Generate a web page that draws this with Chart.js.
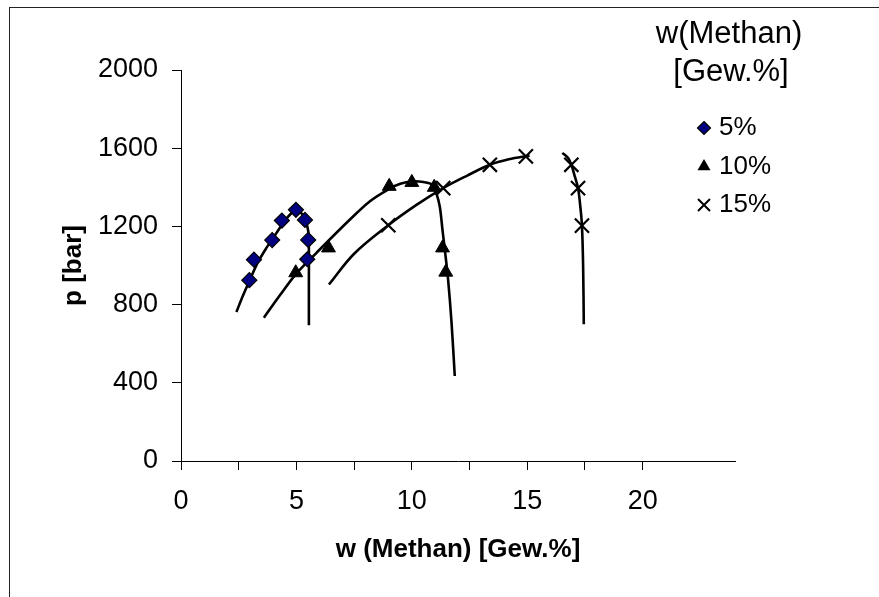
<!DOCTYPE html>
<html>
<head>
<meta charset="utf-8">
<script src="https://cdn.jsdelivr.net/npm/chart.js@4.4.1/dist/chart.umd.min.js"></script>
<style>
  html, body { margin: 0; padding: 0; background: #fff; }
  #wrap { position: relative; width: 879px; height: 597px; overflow: hidden; }
  #frame { position: absolute; left: 9px; top: 7px; width: 900px; height: 620px;
           border-left: 1px solid #222; border-top: 1px solid #222; }
  canvas { position: absolute; left: 0; top: 0; }
</style>
</head>
<body>
<div id="wrap">
  <div id="frame"></div>
  <canvas id="chart" width="879" height="597"></canvas>
</div>
<script>
// measured points, methane content of the feed: 5, 10, 15 wt.%
const w5 = [2.96, 3.16, 3.95, 4.37, 4.98, 5.37, 5.51, 5.47];
const p5 = [925, 1030, 1130, 1230, 1285, 1233, 1131, 1032];
const w10 = [4.97, 6.39, 9.02, 10.0, 10.97, 11.33, 11.47];
const p10 = [963, 1090, 1405, 1425, 1400, 1090, 966];
const w15 = [8.98, 11.36, 13.38, 14.94, 16.91, 17.2, 17.37];
const p15 = [1206, 1396, 1515, 1558, 1515, 1396, 1204];

// hand-drawn phase boundary curves
const curve5w = [2.4, 2.7, 3.0, 3.3, 3.7, 4.1, 4.5, 4.8, 5.0, 5.25, 5.42, 5.52, 5.54, 5.54, 5.54];
const curve5p = [762, 850, 930, 1010, 1090, 1160, 1230, 1270, 1288, 1262, 1220, 1170, 1100, 900, 695];
const curve10w = [3.59, 4.3, 4.97, 5.87, 7.32, 8.2, 9.02, 9.5, 10.0, 10.5, 10.9, 11.06, 11.21, 11.33, 11.43, 11.57, 11.72, 11.86];
const curve10p = [733, 850, 955, 1065, 1235, 1330, 1392, 1418, 1430, 1427, 1412, 1370, 1302, 1180, 1080, 929, 708, 435];
const curve15aw = [6.41, 7.5, 8.98, 10.2, 11.36, 12.4, 13.38, 14.2, 15.1];
const curve15ap = [903, 1060, 1206, 1310, 1396, 1460, 1515, 1543, 1562];
const curve15bw = [16.52, 16.77, 16.91, 17.05, 17.2, 17.3, 17.37, 17.42, 17.45];
const curve15bp = [1576, 1550, 1515, 1460, 1396, 1300, 1204, 1000, 700];

const seriesLabels = ['5%', '10%', '15%'];
const keyTitle = ['w(Methan)', '[Gew.%]'];
const xTitle = 'w (Methan) [Gew.%]';
const yTitle = 'p [bar]';

const FONT = '"Liberation Sans", Arial, sans-serif';
const toXY = (xs, ys) => xs.map((x, i) => ({ x, y: ys[i] }));

const markerSets = [
  { data: toXY(w5, p5), pointStyle: 'rectRot', pointRadius: 7.5,
    pointBackgroundColor: '#000080', pointBorderColor: '#000', pointBorderWidth: 1.2 },
  { data: toXY(w10, p10), pointStyle: 'triangle', pointRadius: 8,
    pointBackgroundColor: '#000', pointBorderColor: '#000', pointBorderWidth: 1 },
  { data: toXY(w15, p15), pointStyle: 'crossRot', pointRadius: 10,
    pointBackgroundColor: '#000', pointBorderColor: '#000', pointBorderWidth: 2.2 }
].map((ds, i) => ({ ...ds, label: seriesLabels[i], showLine: false }));

const curveSets = [
  toXY(curve5w, curve5p), toXY(curve10w, curve10p),
  toXY(curve15aw, curve15ap), toXY(curve15bw, curve15bp)
].map(data => ({
  data, showLine: true, pointRadius: 0, borderColor: '#000', borderWidth: 2.6,
  tension: 0.35, fill: false
}));

// legend on the right: title + one marker per series
function drawKeyMarker(ctx, style, x, y) {
  ctx.beginPath();
  if (style === 'rectRot') {
    const r = 6.5;
    ctx.moveTo(x, y - r); ctx.lineTo(x + r, y); ctx.lineTo(x, y + r); ctx.lineTo(x - r, y);
    ctx.closePath();
    ctx.fillStyle = '#000080'; ctx.fill();
    ctx.lineWidth = 1.2; ctx.strokeStyle = '#000'; ctx.stroke();
  } else if (style === 'triangle') {
    const r = 7.5;
    ctx.moveTo(x, y - r); ctx.lineTo(x + r * 0.87, y + r * 0.5); ctx.lineTo(x - r * 0.87, y + r * 0.5);
    ctx.closePath();
    ctx.fillStyle = '#000'; ctx.fill();
  } else {
    const r = 6;
    ctx.moveTo(x - r, y - r); ctx.lineTo(x + r, y + r);
    ctx.moveTo(x + r, y - r); ctx.lineTo(x - r, y + r);
    ctx.lineWidth = 2; ctx.strokeStyle = '#000'; ctx.stroke();
  }
}

const keyPlugin = {
  id: 'seriesKey',
  afterDraw(chart) {
    const ctx = chart.ctx;
    ctx.save();
    ctx.fillStyle = '#000';
    ctx.textBaseline = 'middle';
    ctx.textAlign = 'center';
    ctx.font = '31px ' + FONT;
    ctx.fillText(keyTitle[0], 729, 34);
    ctx.fillText(keyTitle[1], 731, 72);
    seriesLabels.forEach((label, i) => {
      const y = 128 + i * 38.5;
      drawKeyMarker(ctx, markerSets[i].pointStyle, 704, y);
      ctx.fillStyle = '#000';
      ctx.textAlign = 'left';
      ctx.font = '26px ' + FONT;
      ctx.fillText(label, 719, y);
    });
    ctx.restore();
  }
};

const axisGrid = { drawOnChartArea: false, drawTicks: true, tickLength: 9, color: '#000', lineWidth: 1 };

new Chart(document.getElementById('chart'), {
  type: 'scatter',
  data: { datasets: [...markerSets, ...curveSets] },
  plugins: [keyPlugin],
  options: {
    responsive: false,
    animation: false,
    layout: { padding: { left: 0, top: 70, right: 144, bottom: 0 } },
    plugins: { legend: { display: false }, tooltip: { enabled: false } },
    scales: {
      x: {
        type: 'linear', min: 0, max: 24,
        afterFit: s => { s.height = 136; },
        afterBuildTicks: s => {
          s.ticks = s.ticks.filter(t => Math.abs(t.value / 2.5 - Math.round(t.value / 2.5)) < 1e-6);
        },
        ticks: {
          stepSize: 2.5, padding: 15, color: '#000', font: { family: FONT, size: 27 },
          callback: v => (v % 5 === 0 ? String(v) : '')
        },
        grid: axisGrid,
        border: { display: true, color: '#000', width: 1 },
        title: { display: true, text: xTitle, color: '#000',
                 font: { family: FONT, size: 26, weight: 'bold' }, padding: { top: 0, bottom: 32 } }
      },
      y: {
        type: 'linear', min: 0, max: 2000,
        afterFit: s => { s.width = 181; },
        ticks: { stepSize: 400, padding: 14, color: '#000', font: { family: FONT, size: 27 },
                 callback: v => String(v) },
        grid: axisGrid,
        border: { display: true, color: '#000', width: 1 },
        title: { display: true, text: yTitle, color: '#000',
                 font: { family: FONT, size: 26, weight: 'bold' }, padding: { top: 58, bottom: 0 } }
      }
    }
  }
});
</script>
</body>
</html>
